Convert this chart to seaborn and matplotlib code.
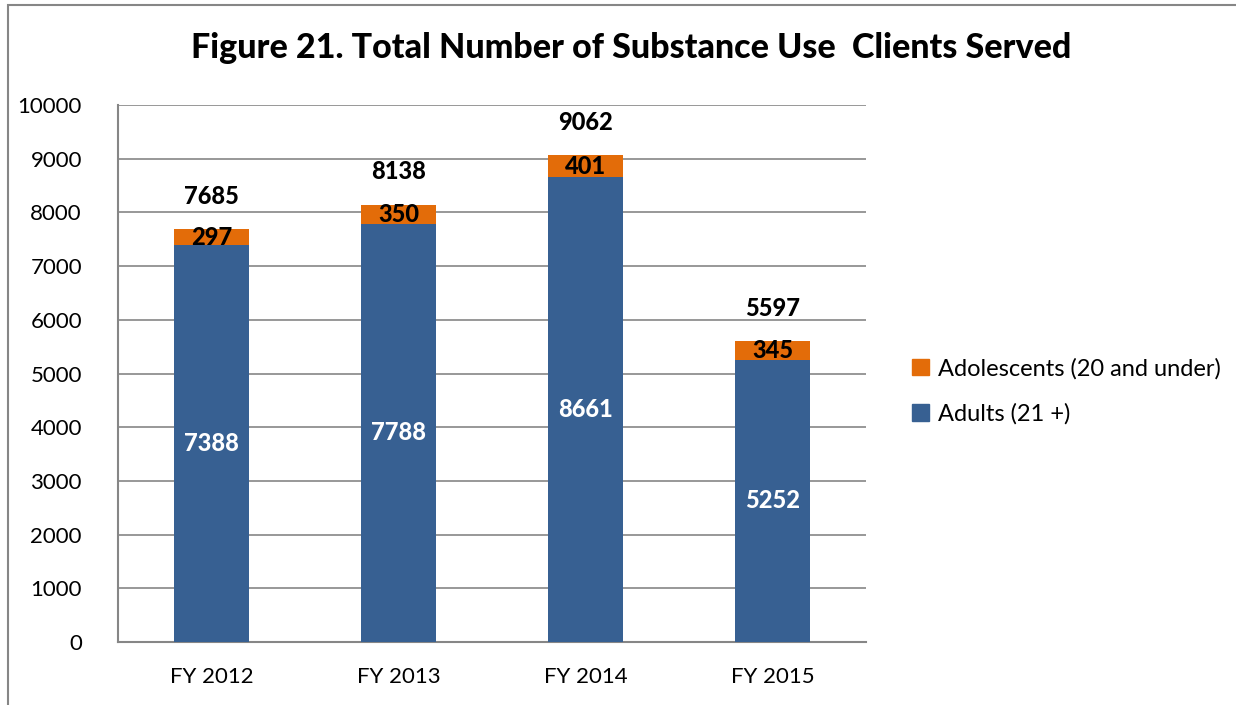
import matplotlib
matplotlib.use('Agg')
import matplotlib.pyplot as plt
import seaborn as sns
import pandas as pd
from matplotlib.patches import Rectangle, Patch

# Data
years = ['FY 2012', 'FY 2013', 'FY 2014', 'FY 2015']
adults = [7388, 7788, 8661, 5252]
adolescents = [297, 350, 401, 345]
totals = [7685, 8138, 9062, 5597]

blue = '#376092'
orange = '#E36C09'
grid_col = '#868686'

sns.set_style('white')
plt.rcParams['font.family'] = ['Lato', 'DejaVu Sans']
plt.rcParams['text.color'] = 'black'
plt.rcParams['xtick.color'] = 'black'
plt.rcParams['ytick.color'] = 'black'

fig = plt.figure(figsize=(12.36, 7.05), dpi=100)
ax = fig.add_axes([0.0955, 0.0894, 0.6051, 0.7616])

df = pd.DataFrame({'year': years, 'adults': adults, 'adolescents': adolescents})

sns.barplot(data=df, x='year', y='adults', color=blue, width=0.4,
            saturation=1, linewidth=0, ax=ax, zorder=3)
sns.barplot(data=df, x='year', y='adolescents', color=orange, width=0.4,
            saturation=1, linewidth=0, bottom=df['adults'], ax=ax, zorder=3)

ax.set_ylim(0, 10000)
ax.set_xlim(-0.5, 3.5)
ax.set_yticks(range(0, 10001, 1000))
ax.yaxis.grid(True, color=grid_col, linewidth=1.2, zorder=0)
ax.set_xlabel('')
ax.set_ylabel('')
ax.tick_params(axis='y', labelsize=16, pad=26, length=0)
ax.tick_params(axis='x', labelsize=16, pad=18, length=0)

for s in ['top', 'right']:
    ax.spines[s].set_visible(False)
for s in ['left', 'bottom']:
    ax.spines[s].set_color(grid_col)
    ax.spines[s].set_linewidth(1.5)

# value labels
lab = dict(ha='center', va='center', fontsize=17, fontweight='black', zorder=4)
for i in range(len(years)):
    ax.text(i, adults[i] / 2, str(adults[i]), color='white', **lab)
    ax.text(i, adults[i] + adolescents[i] / 2, str(adolescents[i]), color='black', **lab)
    ax.text(i, totals[i] + 620, str(totals[i]), color='black', **lab)

fig.suptitle('Figure 21. Total Number of Substance Use  Clients Served',
             x=0.511, y=0.955, fontsize=24.5, fontweight='black')

handles = [Patch(color=orange, label='Adolescents (20 and under)'),
           Patch(color=blue, label='Adults (21 +)')]
fig.legend(handles=handles, loc='center left', bbox_to_anchor=(0.721, 0.445),
           frameon=False, fontsize=17, handlelength=0.7, handleheight=0.7,
           handletextpad=0.4, labelspacing=1.0)

# outer chart frame
fig.add_artist(Rectangle((8 / 1236, -0.05), 1.1, 1 - 5 / 705 + 0.05,
                         transform=fig.transFigure, fill=False,
                         edgecolor=grid_col, linewidth=1.5))

fig.savefig('out.png', dpi=100)
